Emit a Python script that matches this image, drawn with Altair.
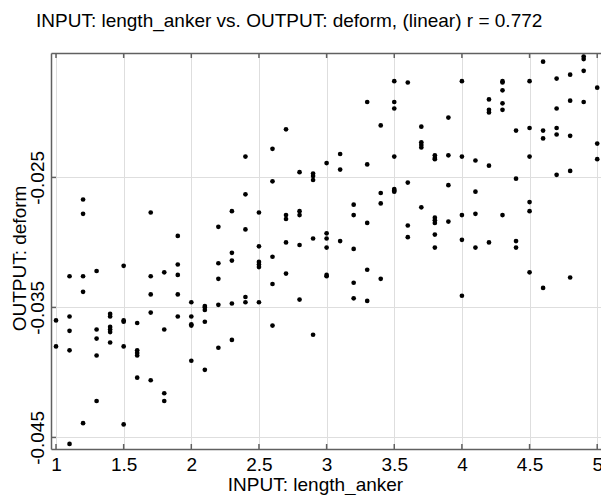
import altair as alt
import pandas as pd

# ---- data ----
length_anker = (
    [1.0] * 2 + [1.1] * 5 + [1.2] * 5 + [1.3] * 5 + [1.4] * 6 + [1.5] * 5 +
    [1.6] * 5 + [1.7] * 5 + [1.8] * 4 + [1.9] * 5 + [2.0] * 5 + [2.1] * 5 +
    [2.2] * 5 + [2.3] * 5 + [2.4] * 5 + [2.5] * 6 + [2.6] * 5 + [2.7] * 5 +
    [2.8] * 5 + [2.9] * 5 + [3.0] * 6 + [3.1] * 3 + [3.2] * 5 + [3.3] * 5 +
    [3.4] * 4 + [3.5] * 7 + [3.6] * 4 + [3.7] * 5 + [3.8] * 8 + [3.9] * 4 +
    [4.0] * 5 + [4.1] * 4 + [4.2] * 5 + [4.3] * 6 + [4.4] * 4 + [4.5] * 6 +
    [4.6] * 4 + [4.7] * 5 + [4.8] * 5 + [4.9] * 4 + [5.0] * 3
)
deform = [
    -0.0360, -0.0380,
    -0.0326, -0.0357, -0.0368, -0.0383, -0.0455,
    -0.0267, -0.0278, -0.0326, -0.0338, -0.0439,
    -0.0322, -0.0367, -0.0374, -0.0387, -0.0422,
    -0.0355, -0.0357, -0.0365, -0.0367, -0.0369, -0.0377,
    -0.0318, -0.0360, -0.0361, -0.0380, -0.0440,
    -0.0362, -0.0383, -0.0385, -0.0387, -0.0404,
    -0.0277, -0.0326, -0.0340, -0.0354, -0.0406,
    -0.0323, -0.0367, -0.0416, -0.0422,
    -0.0295, -0.0317, -0.0325, -0.0340, -0.0357,
    -0.0346, -0.0357, -0.0363, -0.0364, -0.0391,
    -0.0349, -0.0350, -0.0352, -0.0361, -0.0398,
    -0.0288, -0.0316, -0.0328, -0.0348, -0.0381,
    -0.0276, -0.0308, -0.0314, -0.0347, -0.0375,
    -0.0234, -0.0263, -0.0290, -0.0342, -0.0346,
    -0.0277, -0.0303, -0.0315, -0.0317, -0.0319, -0.0346,
    -0.0228, -0.0253, -0.0311, -0.0332, -0.0364,
    -0.0213, -0.0279, -0.0282, -0.0300, -0.0324,
    -0.0246, -0.0276, -0.0279, -0.0302, -0.0344,
    -0.0247, -0.0249, -0.0252, -0.0297, -0.0371,
    -0.0239, -0.0293, -0.0297, -0.0304, -0.0325, -0.0326,
    -0.0232, -0.0244, -0.0299,
    -0.0271, -0.0279, -0.0305, -0.0331, -0.0343,
    -0.0192, -0.0240, -0.0285, -0.0321, -0.0345,
    -0.0210, -0.0262, -0.0270, -0.0328,
    -0.0176, -0.0192, -0.0197, -0.0234, -0.0259, -0.0260, -0.0261,
    -0.0177, -0.0254, -0.0287, -0.0296,
    -0.0211, -0.0223, -0.0225, -0.0227, -0.0273,
    -0.0233, -0.0235, -0.0236, -0.0281, -0.0283, -0.0285, -0.0294, -0.0304,
    -0.0204, -0.0233, -0.0256, -0.0284,
    -0.0176, -0.0234, -0.0279, -0.0298, -0.0341,
    -0.0237, -0.0261, -0.0278, -0.0304,
    -0.0190, -0.0198, -0.0200, -0.0241, -0.0300,
    -0.0176, -0.0177, -0.0183, -0.0193, -0.0198, -0.0279,
    -0.0214, -0.0251, -0.0299, -0.0304,
    -0.0176, -0.0212, -0.0234, -0.0269, -0.0276, -0.0323,
    -0.0161, -0.0214, -0.0220, -0.0335,
    -0.0174, -0.0197, -0.0212, -0.0217, -0.0248,
    -0.0171, -0.0191, -0.0218, -0.0245, -0.0327,
    -0.0157, -0.0159, -0.0168, -0.0192,
    -0.0181, -0.0224, -0.0236,
]
x_ticks = [1, 1.5, 2, 2.5, 3, 3.5, 4, 4.5, 5]
y_ticks = [-0.045, -0.035, -0.025]
title_text = "INPUT: length_anker vs. OUTPUT: deform, (linear) r = 0.772"

X_DOMAIN = [0.963, 5.028]
Y_DOMAIN = [-0.04589, -0.01543]
W, H = 550, 396
FONT = "Liberation Sans"
AXIS_GRAY = "#606060"

df = pd.DataFrame({"length_anker": length_anker, "deform": deform})
xt = pd.DataFrame({"t": x_ticks})
yt = pd.DataFrame({"t": y_ticks})

xscale = alt.Scale(domain=X_DOMAIN, nice=False, zero=False)
yscale = alt.Scale(domain=Y_DOMAIN, nice=False, zero=False)

y_axis = alt.Axis(values=y_ticks, labelExpr="'' + datum.value",
                  title="OUTPUT: deform", ticks=False,
                  labelAngle=270, labelAlign="center",
                  labelBaseline="alphabetic", labelPadding=8,
                  titleAngle=270, titleX=-26, titleY=205,
                  titleBaseline="alphabetic", titleAlign="center",
                  titleAnchor="start", grid=True)

points = alt.Chart(df).mark_circle(size=22, color="black", opacity=1).encode(
    x=alt.X("length_anker:Q", scale=xscale,
            axis=alt.Axis(orient="bottom", values=x_ticks,
                          labelExpr="'' + datum.value",
                          title="INPUT: length_anker", ticks=False,
                          labelPadding=21, labelBaseline="alphabetic",
                          titleX=264, titleY=41, titleBaseline="alphabetic",
                          titleAnchor="start", titleAlign="center",
                          grid=True)),
    y=alt.Y("deform:Q", scale=yscale, axis=y_axis),
)

# top frame line, drawn as an axis with no labels
top_ticks = alt.Chart(xt).mark_rule(color=AXIS_GRAY, strokeWidth=1.5).encode(
    x=alt.X("t:Q", scale=xscale,
            axis=alt.Axis(orient="top", labels=False, ticks=False, grid=False,
                          title=None, domain=True)),
    y=alt.value(0), y2=alt.value(5),
)
bottom_ticks = alt.Chart(xt).mark_rule(color=AXIS_GRAY, strokeWidth=1.5).encode(
    x=alt.X("t:Q", scale=xscale, axis=None),
    y=alt.value(H), y2=alt.value(H - 5),
)
left_ticks = alt.Chart(yt).mark_rule(color=AXIS_GRAY, strokeWidth=1.5).encode(
    y=alt.Y("t:Q", scale=yscale, axis=y_axis),
    x=alt.value(0), x2=alt.value(5),
)

chart = alt.layer(points, top_ticks, bottom_ticks, left_ticks).resolve_axis(
    x="independent"
).properties(
    width=W, height=H,
    autosize=alt.AutoSizeParams(type="none"),
    padding={"left": 51, "top": 53, "right": 0, "bottom": 46},
    title=alt.TitleParams(title_text, anchor="start", frame="group",
                          dx=-15, offset=6, baseline="alphabetic",
                          font=FONT, fontSize=19, fontWeight="normal",
                          color="black"),
).configure_view(stroke=None).configure_axis(
    labelFont=FONT, titleFont=FONT, labelFontSize=19, titleFontSize=19,
    labelColor="black", titleColor="black", titleFontWeight="normal",
    domainColor=AXIS_GRAY, domainWidth=1.5,
    gridColor="#dedede", gridWidth=1, labelOverlap=False,
    labelFlush=False,
)

chart.save("out.html", embed_options={"renderer": "svg", "actions": False})
